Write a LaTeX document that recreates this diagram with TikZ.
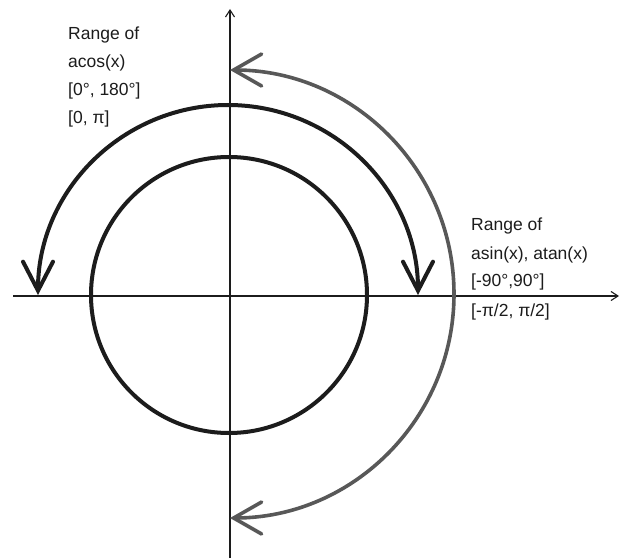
\documentclass[tikz,border=0pt]{standalone}
\usepackage{fontspec}
\setmainfont{Liberation Sans}
\usetikzlibrary{arrows.meta}
\definecolor{inkblack}{RGB}{28,28,28}
\definecolor{inkgray}{RGB}{88,88,88}
\tikzset{
  axisline/.style={line width=1.1pt, draw=inkblack, -{Straight Barb[length=7pt,width=9pt]}},
  bigbarb/.style={Straight Barb[length=29pt,width=30pt,line cap=round]},
  blackarc/.style={line width=4pt, draw=inkblack, line cap=round,
    {Straight Barb[length=29pt,width=30pt,line cap=round]}-{Straight Barb[length=29pt,width=30pt,line cap=round]}},
  grayarc/.style={line width=3.6pt, draw=inkgray, line cap=round,
    {Straight Barb[length=28pt,width=32pt,line cap=round]}-{Straight Barb[length=28pt,width=32pt,line cap=round]}},
  circ/.style={line width=4pt, draw=inkblack},
  lbl/.style={anchor=base west, inner sep=0pt, font=\fontsize{17.5}{20}\selectfont, text=inkblack}
}
\begin{document}
\begin{tikzpicture}[x=1pt,y=1pt]
\useasboundingbox (0,0) rectangle (621,558);
\fill[white] (0,0) rectangle (621,558);
% axes
\coordinate (xs) at (13,262);
\coordinate (xe) at (619,262);
\coordinate (ys) at (230,0);
\coordinate (ye) at (230,549);
\draw[axisline] (xs) -- (xe);
\draw[axisline] (ys) -- (ye);
% inner circle
\coordinate (c) at (229,263);
\draw[circ] (c) circle[radius=138];
% black arc (acos range)
\coordinate (bl) at (38,263);
\draw[blackarc] (bl) arc[start angle=180,end angle=0,radius=190];
% gray arc (asin/atan range)
\coordinate (gt) at (230,488);
\draw[grayarc] (gt) arc[start angle=90,end angle=-90,radius=224];
% left labels
\node[lbl] (l1) at (68,518) {Range of};
\node[lbl] (l2) at (68,490) {acos(x)};
\node[lbl] (l3) at (68,462) {[0°, 180°]};
\node[lbl] (l4) at (68,434) {[0, π]};
% right labels
\node[lbl] (r1) at (471,327) {Range of};
\node[lbl] (r2) at (471,299) {asin(x), atan(x)};
\node[lbl] (r3) at (471,272) {[-90°,90°]};
\node[lbl] (r4) at (471,242) {[-π/2, π/2]};
\end{tikzpicture}
\end{document}
